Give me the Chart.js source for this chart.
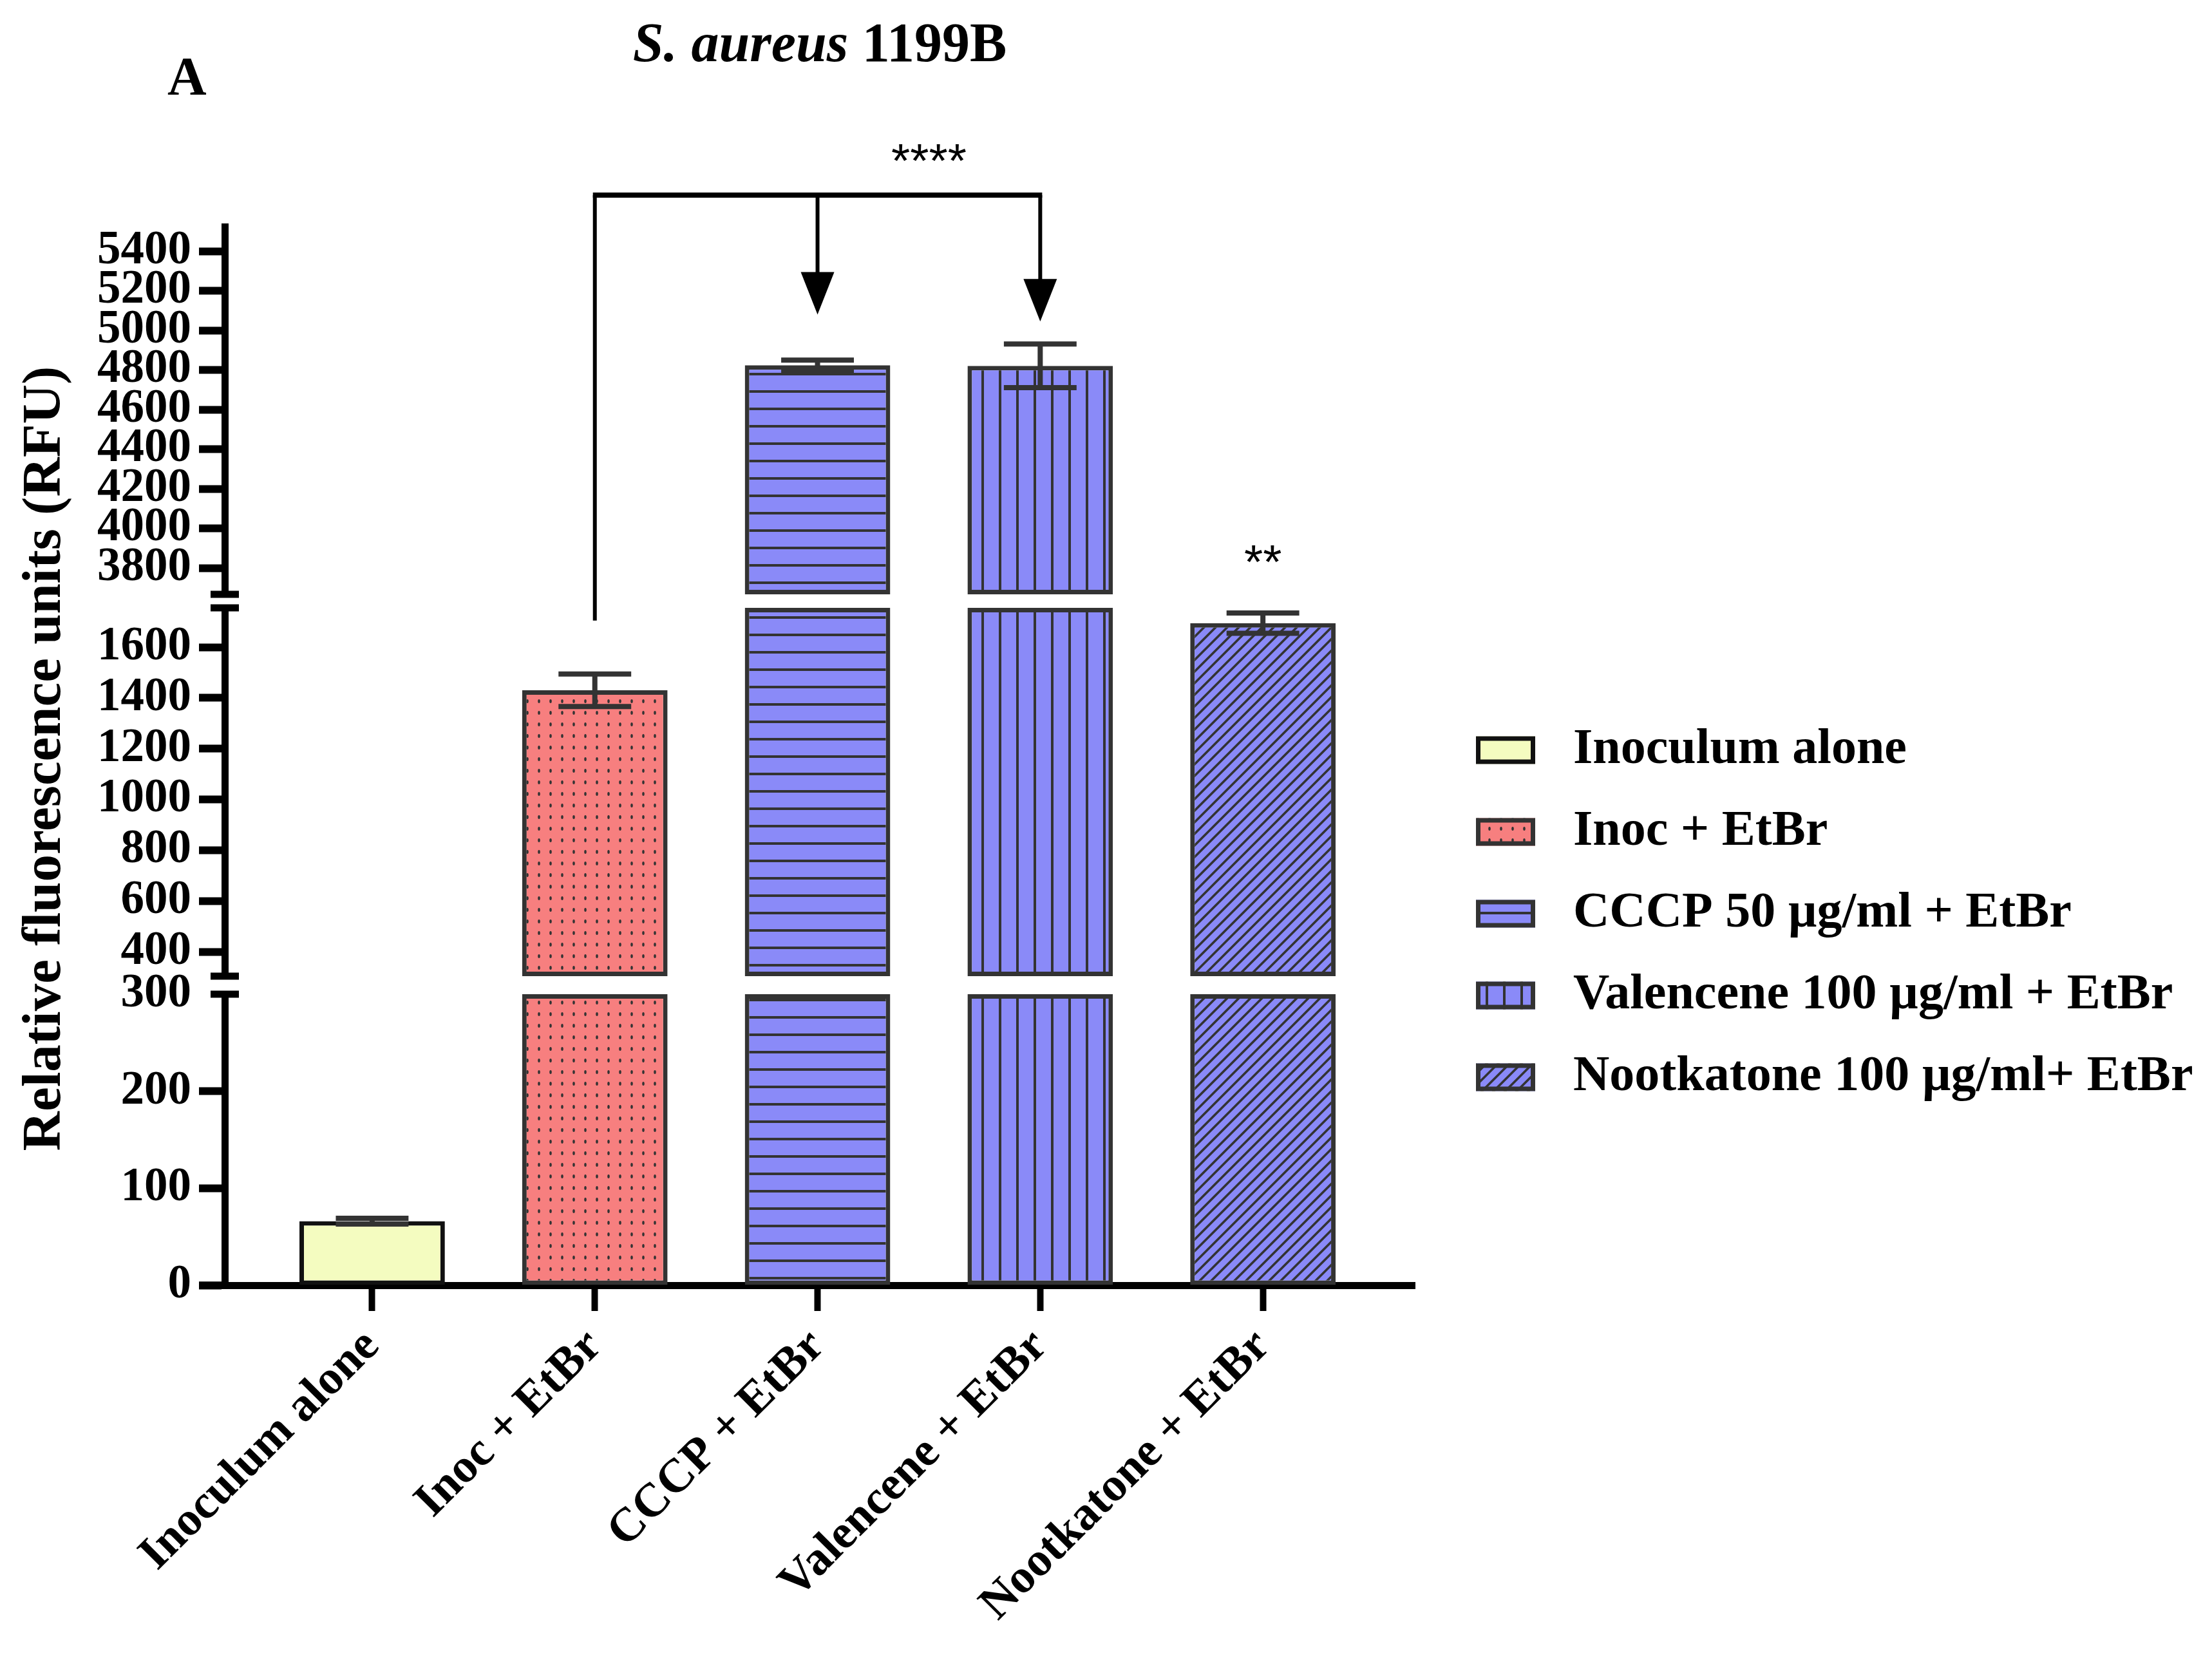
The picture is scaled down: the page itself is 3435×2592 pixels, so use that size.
<!DOCTYPE html>
<html>
<head>
    <title>S. aureus 1199B</title>
    <script src="https://cdn.jsdelivr.net/npm/chart.js"></script>
    <style>
        body { margin: 0; background: #fff; }
        #wrap { width: 3435px; height: 2592px; }
    </style>
</head>
<body>
    <div id="wrap"><canvas id="myChart"></canvas></div>

    <script>
        var categories = ["Inoculum alone", "Inoc + EtBr", "CCCP + EtBr", "Valencene + EtBr", "Nootkatone + EtBr"];
        var legendLabels = ["Inoculum alone", "Inoc + EtBr", "CCCP 50 \u00b5g/ml + EtBr", "Valencene 100 \u00b5g/ml + EtBr", "Nootkatone 100 \u00b5g/ml+ EtBr"];
        var meanRFU = [66, 1430, 4824, 4821, 1695];
        var sdRFU = [3, 64, 26, 110, 40];

        // broken y axis: three pieces
        var lowRange = [0, 300];
        var midRange = [303.6, 1755];
        var topRange = [3667, 5524];
        var lowTicks = [0, 100, 200, 300];
        var midTicks = [400, 600, 800, 1000, 1200, 1400, 1600];
        var topTicks = [3800, 4000, 4200, 4400, 4600, 4800, 5000, 5200, 5400];

        var serif = "'Liberation Serif', 'Times New Roman', serif";
        var sans = "'Liberation Sans', Arial, sans-serif";

        var ctx = document.getElementById("myChart").getContext("2d");

        // fill patterns for the bars
        function makePattern(bg, size, draw) {
            var c = document.createElement("canvas");
            c.width = size; c.height = size;
            var g = c.getContext("2d");
            g.fillStyle = bg;
            g.fillRect(0, 0, size, size);
            g.fillStyle = "#333";
            g.strokeStyle = "#333";
            if (draw) draw(g, size);
            return ctx.createPattern(c, "repeat");
        }
        var fills = [
            "#F4FCC0",
            makePattern("#F77F7F", 18, function (g) {
                g.beginPath(); g.ellipse(9, 9, 1.8, 3, 0, 0, Math.PI * 2); g.fill();
            }),
            makePattern("#8A8AF8", 27, function (g, s) { g.fillRect(0, 12, s, 4); }),
            makePattern("#8A8AF8", 27, function (g, s) { g.fillRect(12, 0, 4, s); }),
            makePattern("#8A8AF8", 18, function (g, s) {
                g.lineWidth = 3.6;
                g.beginPath();
                g.moveTo(-2, s + 2); g.lineTo(s + 2, -2);
                g.moveTo(-s / 2 - 2, s / 2 + 2); g.lineTo(s / 2 + 2, -s / 2 - 2);
                g.moveTo(s / 2 - 2, s * 1.5 + 2); g.lineTo(s * 1.5 + 2, s / 2 - 2);
                g.stroke();
            })
        ];
        var borders = ["#111", "#333", "#333", "#333", "#333"];

        // one floating-bar dataset per axis piece
        function pieceData(range) {
            return meanRFU.map(function (v, i) {
                return { x: i, y: v > range[0] ? [range[0], Math.min(v, range[1])] : null };
            });
        }
        function pieceDataset(range, axisId) {
            return {
                data: pieceData(range),
                yAxisID: axisId,
                backgroundColor: fills,
                borderColor: borders,
                borderWidth: 7,
                borderSkipped: false,
                grouped: false,
                categoryPercentage: 1,
                barPercentage: 0.653
            };
        }

        function pieceAxis(range, ticks, height, order) {
            return {
                type: "linear",
                position: "left",
                stack: "rfu",
                stackWeight: height,
                weight: order,
                min: range[0],
                max: range[1],
                offset: false,
                afterBuildTicks: function (s) { s.ticks = ticks.map(function (v) { return { value: v }; }); },
                afterFit: function (s) { s.width = 349; },
                grid: {
                    drawOnChartArea: false,
                    tickLength: 40,
                    tickWidth: 12,
                    tickColor: function (c) { return c.tick && c.tick.value === 300 ? "rgba(0,0,0,0)" : "#000"; }
                },
                border: { display: true, color: "#000", width: 11 },
                ticks: {
                    autoSkip: false,
                    padding: 12,
                    color: "#000",
                    font: { family: serif, size: 73, weight: "bold" },
                    callback: function (v) { return String(v); }
                }
            };
        }
        function gapAxis(height, order) {
            return { type: "linear", position: "left", stack: "rfu", stackWeight: height, weight: order, display: false, min: 0, max: 1 };
        }

        var decor = {
            id: "decor",
            afterDatasetsDraw: function (chart) {
                var c = chart.ctx, x = chart.scales.x;
                var segs = [chart.scales.ySeg1, chart.scales.ySeg2, chart.scales.ySeg3];
                var barW = chart.getDatasetMeta(0).data[0].width;
                c.save();
                c.strokeStyle = "#333";
                c.lineWidth = 8;
                meanRFU.forEach(function (v, i) {
                    var s = segs.find(function (a) { return v >= a.min && v <= a.max; });
                    var px = x.getPixelForValue(i);
                    var hi = s.getPixelForValue(v + sdRFU[i]), lo = s.getPixelForValue(v - sdRFU[i]);
                    c.beginPath();
                    c.moveTo(px, hi); c.lineTo(px, lo);
                    c.moveTo(px - barW / 4, hi); c.lineTo(px + barW / 4, hi);
                    c.moveTo(px - barW / 4, lo); c.lineTo(px + barW / 4, lo);
                    c.stroke();
                });
                c.restore();
            },
            afterDraw: function (chart) {
                var c = chart.ctx, ca = chart.chartArea, x = chart.scales.x;
                var s1 = chart.scales.ySeg1, s2 = chart.scales.ySeg2, s3 = chart.scales.ySeg3;
                c.save();
                c.fillStyle = "#000";
                c.strokeStyle = "#000";

                // title, mixed italic / upright
                var t1 = "S. aureus", t2 = " 1199B";
                c.textBaseline = "alphabetic";
                c.textAlign = "left";
                c.font = "italic bold 86px " + serif;
                var w1 = c.measureText(t1).width;
                c.font = "bold 86px " + serif;
                var w2 = c.measureText(t2).width;
                var tx = (ca.left + ca.right) / 2 - (w1 + w2) / 2;
                c.font = "italic bold 86px " + serif;
                c.fillText(t1, tx, 95);
                c.font = "bold 86px " + serif;
                c.fillText(t2, tx + w1, 95);

                c.font = "bold 84px " + serif;
                c.fillText("A", 260, 147);

                // y title
                c.save();
                c.translate(93, (ca.top + ca.bottom) / 2 + 4);
                c.rotate(-Math.PI / 2);
                c.textAlign = "center";
                c.font = "bold 85px " + serif;
                c.fillText("Relative fluorescence units (RFU)", 0, 0);
                c.restore();

                // axis break caps and x axis stub
                [s3.bottom, s2.top, s2.bottom, s1.top].forEach(function (y) {
                    c.fillRect(ca.left - 22, y - 5.5, 44, 11);
                });
                c.fillRect(ca.left - 40, x.top - 5.5, 40, 11);

                // comparison bracket with arrows
                var xInoc = x.getPixelForValue(1), xCccp = x.getPixelForValue(2), xVal = x.getPixelForValue(3);
                var yTop = ca.top - 49;
                c.lineWidth = 6;
                c.beginPath();
                c.moveTo(xInoc, s2.getPixelForValue(1705)); c.lineTo(xInoc, yTop);
                c.stroke();
                c.lineWidth = 8;
                c.beginPath();
                c.moveTo(xInoc - 3, yTop); c.lineTo(xVal + 3, yTop);
                c.stroke();
                [[xCccp, s3.getPixelForValue(5080)], [xVal, s3.getPixelForValue(5045)]].forEach(function (a) {
                    c.lineWidth = 6;
                    c.beginPath();
                    c.moveTo(a[0], yTop); c.lineTo(a[0], a[1] - 60);
                    c.stroke();
                    c.beginPath();
                    c.moveTo(a[0] - 26, a[1] - 66); c.lineTo(a[0] + 26, a[1] - 66); c.lineTo(a[0], a[1]);
                    c.closePath();
                    c.fill();
                });

                c.font = "75px " + sans;
                c.textAlign = "center";
                c.fillText("****", (xCccp + xVal) / 2, 275);
                c.fillText("**", x.getPixelForValue(4), s2.getPixelForValue(meanRFU[4] + sdRFU[4]) - 54);

                // legend
                c.font = "bold 78px " + serif;
                c.textAlign = "left";
                c.textBaseline = "middle";
                legendLabels.forEach(function (lbl, i) {
                    var cy = 1165 + i * 127;
                    c.fillStyle = fills[i];
                    c.fillRect(2292, cy - 21.5, 92, 43);
                    c.strokeStyle = borders[i];
                    c.lineWidth = 7;
                    c.strokeRect(2295.5, cy - 18, 85, 36);
                    c.fillStyle = "#000";
                    c.fillText(lbl, 2443, cy);
                });
                c.restore();
            }
        };

        new Chart(ctx, {
            type: "bar",
            data: {
                datasets: [
                    pieceDataset(lowRange, "ySeg1"),
                    pieceDataset(midRange, "ySeg2"),
                    pieceDataset(topRange, "ySeg3")
                ]
            },
            plugins: [decor],
            options: {
                responsive: true,
                maintainAspectRatio: false,
                devicePixelRatio: 1,
                animation: false,
                layout: { padding: { top: 352, right: 1238, bottom: 0, left: 0 } },
                plugins: {
                    legend: { display: false },
                    tooltip: { enabled: false }
                },
                scales: {
                    x: {
                        type: "linear",
                        min: -0.662,
                        max: 4.682,
                        offset: false,
                        z: 1,
                        afterBuildTicks: function (s) { s.ticks = categories.map(function (c, i) { return { value: i }; }); },
                        afterFit: function (s) { s.height = 596; },
                        grid: { drawOnChartArea: false, offset: false, tickLength: 40, tickWidth: 10, tickColor: "#000" },
                        border: { display: true, color: "#000", width: 11 },
                        ticks: {
                            autoSkip: false,
                            minRotation: 45,
                            maxRotation: 45,
                            padding: 12,
                            color: "#000",
                            font: { family: serif, size: 74, weight: "bold" },
                            callback: function (v) { return categories[v]; }
                        }
                    },
                    ySeg1: pieceAxis(lowRange, lowTicks, 452, 1),
                    yGapA: gapAxis(28, 2),
                    ySeg2: pieceAxis(midRange, midTicks, 572, 3),
                    yGapB: gapAxis(21, 4),
                    ySeg3: pieceAxis(topRange, topTicks, 571, 5)
                }
            }
        });
    </script>
</body>
</html>
